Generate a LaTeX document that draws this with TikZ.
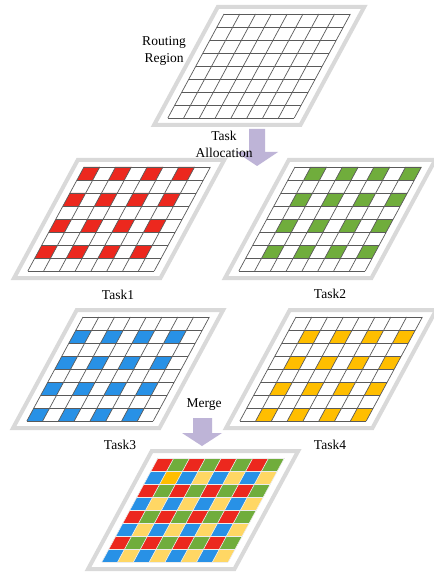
\documentclass[tikz,border=0pt]{standalone}
\usepackage{fontspec}
\setmainfont{Liberation Serif}
\definecolor{cred}{RGB}{236,40,30}
\definecolor{cgreen}{RGB}{112,173,60}
\definecolor{cblue}{RGB}{40,145,230}
\definecolor{cgold}{RGB}{255,190,0}
\definecolor{cyellow}{RGB}{255,215,100}
\definecolor{cframe}{RGB}{217,217,217}
\definecolor{carrow}{RGB}{190,180,215}
\definecolor{cline}{RGB}{90,90,90}
\newcommand{\cellw}{15.8}
\newcommand{\cellh}{13}
\newcommand{\cells}[3]{\foreach \r in {#2}{\foreach \c in {#3}{\fill[#1] (\c*\cellw,\r*\cellh) rectangle ++(\cellw,\cellh);}}}
\newcommand{\panelgrid}[4]{%
  \begin{scope}[shift={(#1,#2)}, xslant=0.54]
    \draw[frameline] (-10,-7) rectangle (136.4,111);
    #4
    \foreach \i in {0,...,8}{
      \draw[#3] (\i*\cellw,0) -- (\i*\cellw,104);
      \draw[#3] (0,\i*\cellh) -- (8*\cellw,\i*\cellh);}
  \end{scope}}
\tikzset{
  frameline/.style={draw=cframe, line width=4pt, line join=miter},
  gridline/.style={draw=cline, line width=0.7pt},
  mergeline/.style={draw=white!85!gray, line width=0.6pt},
  lbl/.style={font=\fontsize{13.5}{17}\selectfont, align=center, inner sep=0pt},
  bigarrow/.style={fill=carrow, draw=none}
}
\begin{document}
\begin{tikzpicture}[x=1pt, y=-1pt]
\fill[white] (0,0) rectangle (433,577);
\useasboundingbox (0,0) rectangle (433,577);

% Routing region
\panelgrid{224}{14}{gridline}{}
% Task1
\panelgrid{84}{167}{gridline}{\cells{cred}{0,2,4,6}{0,2,4,6}}
% Task2
\panelgrid{295}{167}{gridline}{\cells{cgreen}{0,2,4,6}{1,3,5,7}}
% Task3
\panelgrid{83}{317}{gridline}{\cells{cblue}{1,3,5,7}{0,2,4,6}}
% Task4
\panelgrid{296}{317}{gridline}{\cells{cgold}{1,3,5,7}{1,3,5,7}}
% Merge
\panelgrid{158}{458}{mergeline}{%
  \cells{cred}{0,2,4,6}{0,2,4,6}%
  \cells{cgreen}{0,2,4,6}{1,3,5,7}%
  \cells{cblue}{1,3,5,7}{0,2,4,6}%
  \cells{cyellow}{1,3,5,7}{1,3,5,7}%
  \cells{cgold}{1}{1}}

% arrows
\fill[bigarrow] (249,129) -- (265,129) -- (265,152) -- (278,152) -- (257,166) -- (236,152) -- (249,152) -- cycle;
\fill[bigarrow] (193,418) -- (212,418) -- (212,433) -- (222,433) -- (202,446) -- (182,433) -- (193,433) -- cycle;

% labels
\node[lbl] (routing) at (164,51) {Routing\\Region};
\node[lbl] (alloc) at (224,144) {Task\\Allocation};
\node[lbl] (t1) at (118,295) {Task1};
\node[lbl] (t2) at (330,294) {Task2};
\node[lbl] (t3) at (120,445) {Task3};
\node[lbl] (t4) at (330,445) {Task4};
\node[lbl] (merge) at (204,405) {Merge};
\end{tikzpicture}
\end{document}
